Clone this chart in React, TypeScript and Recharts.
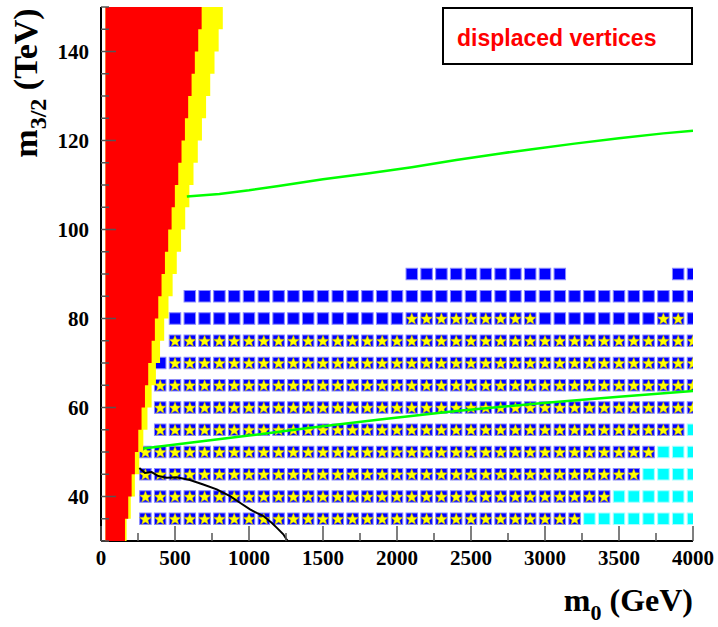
import React from 'react';
import { ComposedChart, XAxis, YAxis, Scatter, Line, Area } from 'recharts';

// m3/2 bands (TeV) of the excluded regions, lower edge of each 5 TeV band
const bandLow = [30, 35, 40, 45, 50, 55, 60, 65, 70, 75, 80, 85, 90, 95, 100, 105, 110, 115, 120, 125, 130, 135, 140, 145];
// m0 (GeV) where the red / yellow region ends in each band
const redEdge = [162, 184, 207, 229, 252, 274, 297, 319, 342, 364, 387, 409, 432, 454, 477, 499, 522, 544, 567, 589, 612, 634, 657, 680];
const yellowEdge = [173, 201, 229, 258, 286, 314, 342, 371, 399, 427, 456, 484, 512, 541, 569, 597, 625, 654, 682, 710, 738, 767, 795, 823];
const regionStart = 30;

// scan points: one row per m3/2 value, runs of [kind, first m0, last m0]
const scanRows = [90, 85, 80, 75, 70, 65, 60, 55, 50, 45, 40, 35];
const scanRuns: [string, number, number][][] = [
  [['blue', 2100, 3100], ['blue', 3900, 4000]],
  [['blue', 600, 4000]],
  [['blue', 500, 2000], ['star', 2100, 2900], ['blue', 3000, 3700], ['star', 3800, 3900], ['blue', 4000, 4000]],
  [['star', 500, 4000]],
  [['blue', 400, 400], ['star', 500, 4000]],
  [['star', 400, 4000]],
  [['star', 400, 4000]],
  [['star', 400, 3900], ['cyan', 4000, 4000]],
  [['star', 300, 3700], ['cyan', 3800, 4000]],
  [['star', 300, 3600], ['cyan', 3700, 4000]],
  [['star', 300, 3400], ['cyan', 3500, 4000]],
  [['star', 300, 3200], ['cyan', 3300, 4000]],
];
const scanStep = 100;

// contours
const upperGreenM0 = [580, 800, 1000, 1200, 1500, 1800, 2100, 2400, 2700, 2900, 3200, 3500, 3800, 4000];
const upperGreenM32 = [107.4, 108.0, 108.8, 109.8, 111.3, 112.6, 114.0, 115.6, 117.1, 118.0, 119.3, 120.5, 121.6, 122.2];
const lowerGreenM0 = [286, 600, 1000, 1400, 1885, 2400, 2989, 3500, 4000];
const lowerGreenM32 = [50.8, 52.1, 53.7, 55.4, 57.3, 59.2, 61.0, 62.4, 63.7];
const blackM0 = [259, 297, 342, 387, 444, 511, 601, 691, 782, 872, 939, 1007, 1052, 1097, 1153, 1187, 1232, 1255, 1262];
const blackM32 = [46.4, 45.3, 45.5, 44.6, 44.2, 44.3, 43.7, 42.7, 41.6, 40.1, 38.6, 37.1, 36.3, 35.6, 34.1, 33.0, 31.5, 30.3, 30];

const xTicks = [0, 250, 500, 750, 1000, 1250, 1500, 1750, 2000, 2250, 2500, 2750, 3000, 3250, 3500, 3750, 4000];
const xLabels = [0, 500, 1000, 1500, 2000, 2500, 3000, 3500, 4000];
const yTicks = [30, 35, 40, 45, 50, 55, 60, 65, 70, 75, 80, 85, 90, 95, 100, 105, 110, 115, 120, 125, 130, 135, 140, 145, 150];
const yLabels = [40, 60, 80, 100, 120, 140];

const serif = '"Liberation Serif", "Times New Roman", serif';
const sans = '"Liberation Sans", Arial, sans-serif';
const tickColor = '#555';

const regionData = (edges: number[]) => [
  { x: regionStart, y: bandLow[0] },
  ...edges.map((e, i) => ({ x: e, y: bandLow[i] + 5 })),
];

const scanPoints = (kind: string) => {
  const pts: { x: number; y: number }[] = [];
  scanRows.forEach((m32, i) => {
    scanRuns[i].forEach(([k, from, to]) => {
      if (k !== kind) return;
      for (let m0 = from; m0 <= to; m0 += scanStep) pts.push({ x: m0, y: m32 });
    });
  });
  return pts;
};

const zip = (xs: number[], ys: number[]) => xs.map((x, i) => ({ x, y: ys[i] }));

const starPath = (cx: number, cy: number, R: number, r: number) => {
  let d = '';
  for (let i = 0; i < 10; i++) {
    const rad = i % 2 === 0 ? R : r;
    const a = -Math.PI / 2 + (i * Math.PI) / 5;
    d += (i === 0 ? 'M' : 'L') + (cx + rad * Math.cos(a)).toFixed(2) + ',' + (cy + rad * Math.sin(a)).toFixed(2);
  }
  return d + 'Z';
};

const BlueSquare = (p: any) => (
  <rect x={p.cx - 5.75} y={p.cy - 5.75} width={11.5} height={11.5} fill="#0000ff" stroke="#8a8aff" strokeWidth={1} />
);

const StarSquare = (p: any) => (
  <g>
    <rect x={p.cx - 5.75} y={p.cy - 5.75} width={11.5} height={11.5} fill="#0000ff" stroke="#8a8aff" strokeWidth={1} />
    <path d={starPath(p.cx, p.cy + 0.6, 6.2, 2.7)} fill="#ffff00" stroke="#c8b800" strokeWidth={0.5} />
  </g>
);

const CyanSquare = (p: any) => (
  <rect x={p.cx - 5.75} y={p.cy - 5.75} width={11.5} height={11.5} fill="#00ffff" stroke="#a8ffff" strokeWidth={1} />
);

const BottomTick = ({ x, y, payload }: any) => {
  const major = xLabels.includes(payload.value);
  return (
    <g>
      <line x1={x} y1={y} x2={x} y2={y - (major ? 15 : 8)} stroke={tickColor} strokeWidth={1.5} />
      {major && (
        <text x={x} y={y + 24} textAnchor="middle" fontFamily={serif} fontWeight="bold" fontSize={21} fill="#000">
          {payload.value}
        </text>
      )}
    </g>
  );
};

const TopTick = ({ x, y, payload }: any) => {
  const major = xLabels.includes(payload.value);
  return <line x1={x} y1={y} x2={x} y2={y + (major ? 15 : 8)} stroke={tickColor} strokeWidth={1.5} />;
};

const LeftTick = ({ x, y, payload }: any) => {
  const major = yLabels.includes(payload.value);
  return (
    <g>
      <line x1={x} y1={y} x2={x + (major ? 15 : 8)} y2={y} stroke={tickColor} strokeWidth={1.5} />
      {major && (
        <text x={x - 12} y={y + 7} textAnchor="end" fontFamily={serif} fontWeight="bold" fontSize={21} fill="#000">
          {payload.value}
        </text>
      )}
    </g>
  );
};

const RightTick = ({ x, y, payload }: any) => {
  const major = yLabels.includes(payload.value);
  return <line x1={x} y1={y} x2={x - (major ? 15 : 8)} y2={y} stroke={tickColor} strokeWidth={1.5} />;
};

const XTitle = ({ viewBox }: any) => (
  <text x={viewBox.x + viewBox.width} y={viewBox.y + 70} textAnchor="end" fontFamily={serif} fontWeight="bold" fontSize={32} fill="#000">
    m<tspan fontSize={22} dy={9}>0</tspan>
    <tspan dy={-9}> (GeV)</tspan>
  </text>
);

const YTitle = ({ viewBox }: any) => {
  const cx = viewBox.x + 37;
  const cy = viewBox.y + 76;
  return (
    <text x={cx} y={cy} transform={`rotate(-90 ${cx} ${cy})`} textAnchor="middle" fontFamily={serif} fontWeight="bold" fontSize={34} fill="#000">
      m<tspan fontSize={24} dy={9}>3/2</tspan>
      <tspan dy={-9}> (TeV)</tspan>
    </text>
  );
};

const axisLine = { stroke: '#000', strokeWidth: 2 };

export default function App() {
  return (
    <div style={{ position: 'absolute', left: 0, top: 0, width: 718, height: 627, background: '#fff' }}>
      <ComposedChart width={718} height={627} margin={{ top: 7, right: 25, left: 0, bottom: 0 }}>
        <XAxis
          type="number"
          dataKey="x"
          domain={[0, 4000]}
          allowDataOverflow
          ticks={xTicks}
          interval={0}
          tickSize={0}
          tickMargin={0}
          tickLine={false}
          tick={BottomTick}
          axisLine={axisLine}
          height={86}
          label={XTitle}
        />
        <XAxis
          xAxisId="top"
          orientation="top"
          type="number"
          domain={[0, 4000]}
          allowDataOverflow
          ticks={xTicks}
          interval={0}
          tickSize={0}
          tickMargin={0}
          tickLine={false}
          tick={TopTick}
          axisLine={axisLine}
          height={0}
        />
        <YAxis
          type="number"
          dataKey="y"
          domain={[30, 150]}
          allowDataOverflow
          ticks={yTicks}
          interval={0}
          tickSize={0}
          tickMargin={0}
          tickLine={false}
          tick={LeftTick}
          axisLine={axisLine}
          width={101}
          label={YTitle}
        />
        <YAxis
          yAxisId="right"
          orientation="right"
          type="number"
          domain={[30, 150]}
          allowDataOverflow
          ticks={yTicks}
          interval={0}
          tickSize={0}
          tickMargin={0}
          tickLine={false}
          tick={RightTick}
          axisLine={axisLine}
          width={0}
        />

        <Scatter data={scanPoints('star')} dataKey="y" shape={StarSquare} isAnimationActive={false} />
        <Scatter data={scanPoints('blue')} dataKey="y" shape={BlueSquare} isAnimationActive={false} />
        <Scatter data={scanPoints('cyan')} dataKey="y" shape={CyanSquare} isAnimationActive={false} />

        <Area
          data={regionData(yellowEdge)}
          dataKey="y"
          type="stepAfter"
          baseValue="dataMax"
          fill="#ffff00"
          fillOpacity={1}
          stroke="none"
          isAnimationActive={false}
          zIndex={700}
        />
        <Area
          data={regionData(redEdge)}
          dataKey="y"
          type="stepAfter"
          baseValue="dataMax"
          fill="#ff0000"
          fillOpacity={1}
          stroke="none"
          isAnimationActive={false}
          zIndex={710}
        />

        <Line data={zip(upperGreenM0, upperGreenM32)} dataKey="y" type="linear" stroke="#00ff00" strokeWidth={2.5} dot={false} isAnimationActive={false} zIndex={800} />
        <Line data={zip(lowerGreenM0, lowerGreenM32)} dataKey="y" type="linear" stroke="#00ff00" strokeWidth={2.5} dot={false} isAnimationActive={false} zIndex={800} />
        <Line data={zip(blackM0, blackM32)} dataKey="y" type="linear" stroke="#000" strokeWidth={2} dot={false} isAnimationActive={false} zIndex={800} />
      </ComposedChart>

      <div
        style={{
          position: 'absolute',
          left: 442,
          top: 7,
          width: 251,
          height: 58,
          boxSizing: 'border-box',
          border: '2px solid #000',
        }}
      >
        <span
          style={{
            position: 'absolute',
            left: 13,
            top: 18,
            lineHeight: '23px',
            fontFamily: sans,
            fontWeight: 'bold',
            fontSize: 23,
            color: '#ff0000',
            whiteSpace: 'nowrap',
          }}
        >
          displaced vertices
        </span>
      </div>
    </div>
  );
}
